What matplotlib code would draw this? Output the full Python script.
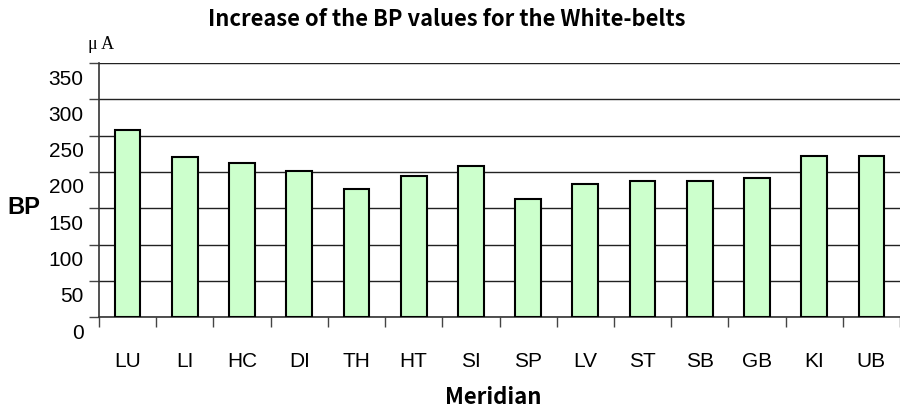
import matplotlib
matplotlib.use('Agg')
import matplotlib.pyplot as plt
import matplotlib.transforms as mtransforms
import numpy as np

meridians = ['LU', 'LI', 'HC', 'DI', 'TH', 'HT', 'SI', 'SP', 'LV', 'ST', 'SB', 'GB', 'KI', 'UB']
bp_values = [258, 220, 213, 202, 176, 195, 208, 163, 183, 188, 188, 192, 222, 222]
y_ticks = [0, 50, 100, 150, 200, 250, 300, 350]

fig = plt.figure(figsize=(9, 4.12), dpi=100)
ax = fig.add_axes([0.11, 0.23, 0.89, 0.617])

x = np.arange(len(meridians))
ax.bar(x, bp_values, width=0.45, color='#CCFFCC', edgecolor='black', linewidth=1.5, zorder=3)

ax.set_xlim(-0.5, len(meridians) - 0.5)
ax.set_ylim(0, 350)
ax.set_yticks(y_ticks)
ax.set_yticklabels([str(v) for v in y_ticks], fontsize=15, family='Liberation Sans')
ax.yaxis.grid(True, color='#222222', linewidth=1.0, zorder=0)
ax.tick_params(axis='y', length=7, width=1, color='#444444', pad=4)
# excel-style: value labels sit a bit below their gridline
shift = mtransforms.ScaledTranslation(0, -0.14, fig.dpi_scale_trans)
for lab in ax.get_yticklabels():
    lab.set_transform(lab.get_transform() + shift)

# category labels centred, tick marks on the boundaries
ax.set_xticks(x)
ax.set_xticklabels(meridians, fontsize=15, family='Liberation Sans')
ax.tick_params(axis='x', length=0, pad=25)
ax.set_xticks(np.arange(len(meridians) + 1) - 0.5, minor=True)
ax.tick_params(axis='x', which='minor', length=7, width=1, color='#444444')

for side in ['top', 'right']:
    ax.spines[side].set_visible(False)
ax.spines['left'].set_color('#333333')
ax.spines['bottom'].set_color('#333333')
ax.spines['left'].set_linewidth(1.2)
ax.spines['bottom'].set_linewidth(1.2)
ax.axhline(350, color='#999999', linewidth=1.5, zorder=1)

fig.text(0.548, 0.036, 'Meridian', fontsize=16, fontweight='bold',
         family=['Noto Sans CJK JP', 'DejaVu Sans'], ha='center', va='center')
fig.text(0.027, 0.497, 'BP', fontsize=17, fontweight='bold', family='Liberation Sans', ha='center', va='center')
fig.text(0.112, 0.893, 'μ A', fontsize=13, family='Liberation Serif', ha='center', va='center')
fig.text(0.496, 0.952, 'Increase of the BP values for the White-belts', fontsize=15.8, fontweight='bold',
         family=['Noto Sans CJK JP', 'DejaVu Sans'], ha='center', va='center')

plt.savefig('out.png', dpi=100)
